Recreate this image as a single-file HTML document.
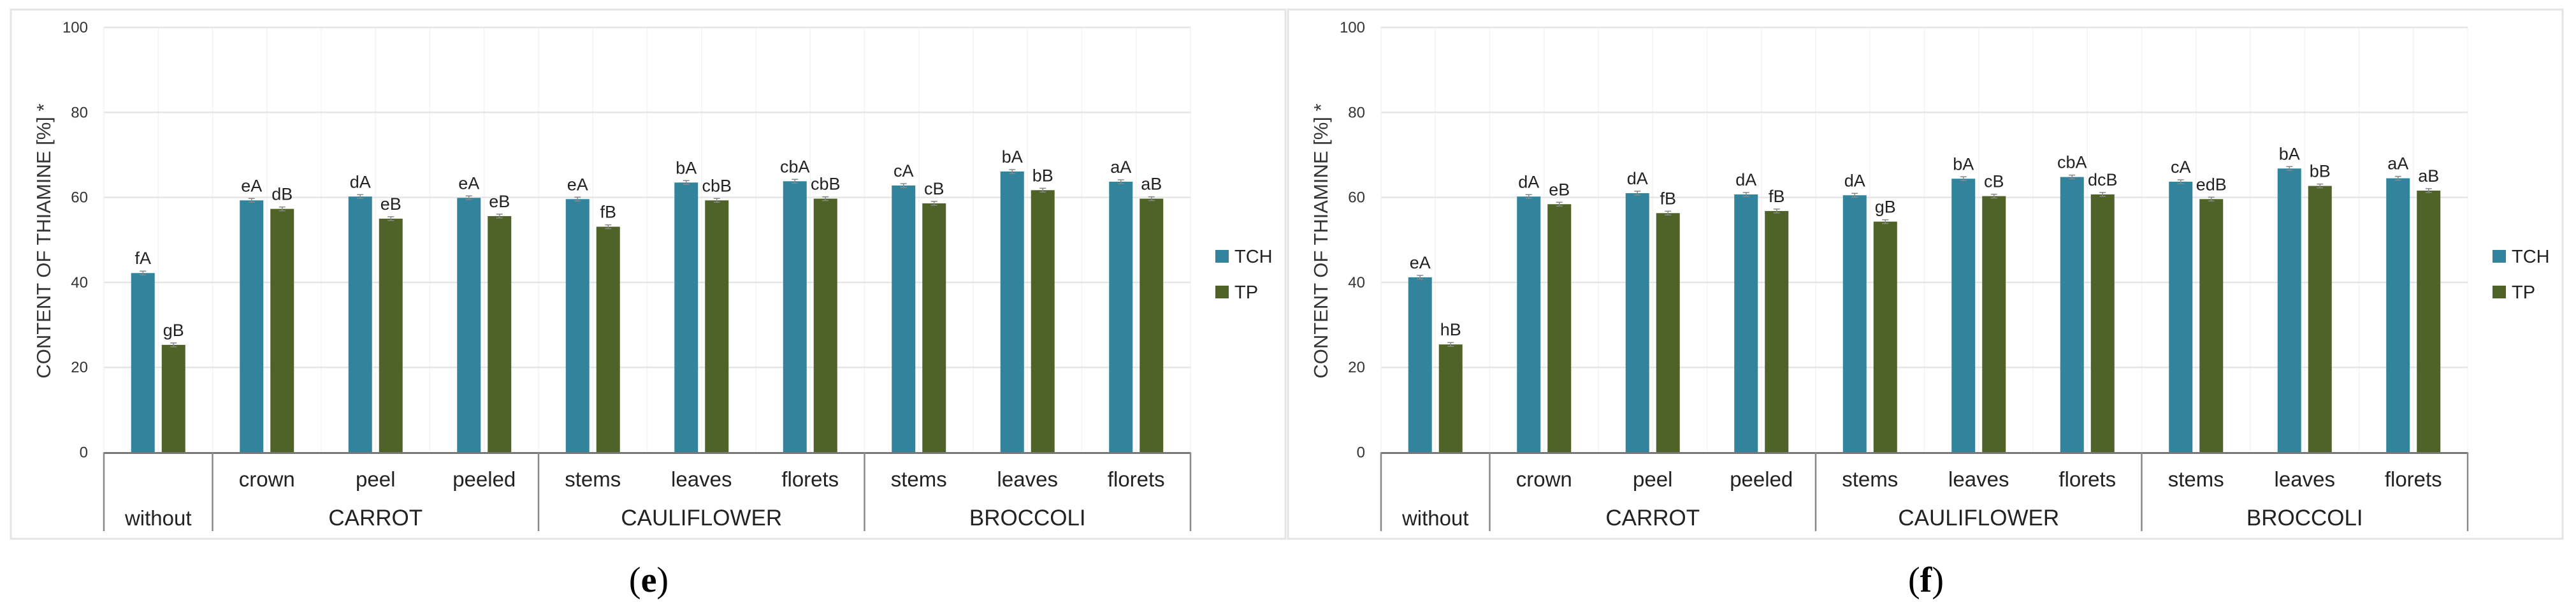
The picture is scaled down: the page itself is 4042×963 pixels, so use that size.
<!DOCTYPE html>
<html><head><meta charset="utf-8">
<style>
html,body{margin:0;padding:0;background:#fff;}
svg{display:block;font-family:"Liberation Sans",Arial,sans-serif;}
</style></head>
<body>
<svg id="chart" width="4042" height="963" viewBox="0 0 4042 963" xmlns="http://www.w3.org/2000/svg"></svg>
<script>
const categories = ["without","crown","peel","peeled","stems","leaves","florets","stems","leaves","florets"];
const groups = ["", "CARROT", "CAULIFLOWER", "BROCCOLI"];
const groupSpans = [1, 3, 3, 3];
const yTicks = [0, 20, 40, 60, 80, 100];
const seriesNames = ["TCH", "TP"];
const tchE = [42.2, 59.3, 60.2, 59.9, 59.6, 63.5, 63.8, 62.8, 66.1, 63.7];
const tpE  = [25.3, 57.3, 55.0, 55.6, 53.1, 59.3, 59.7, 58.6, 61.7, 59.7];
const tchELabels = ["fA","eA","dA","eA","eA","bA","cbA","cA","bA","aA"];
const tpELabels  = ["gB","dB","eB","eB","fB","cbB","cbB","cB","bB","aB"];
const tchF = [41.2, 60.2, 61.0, 60.7, 60.5, 64.4, 64.8, 63.7, 66.8, 64.5];
const tpF  = [25.4, 58.4, 56.3, 56.8, 54.3, 60.3, 60.7, 59.6, 62.7, 61.6];
const tchFLabels = ["eA","dA","dA","dA","dA","bA","cbA","cA","bA","aA"];
const tpFLabels  = ["hB","eB","fB","fB","gB","cB","dcB","edB","bB","aB"];

const NS = "http://www.w3.org/2000/svg";
const svg = document.getElementById("chart");
const COL = ["#31849b", "#4f6228"];
function mk(tag, attrs, parent, text){
  const e = document.createElementNS(NS, tag);
  for (const k in attrs) e.setAttribute(k, attrs[k]);
  if (text !== undefined) e.textContent = text;
  parent.appendChild(e);
  return e;
}
function panel(ox, tch, tp, tchL, tpL, caption, pname){
  const g = mk("g", {}, svg);
  
  
  const L = 163 + ox, R = 1868 + ox, Y0 = 709.5, Y100 = 43;
  const y = v => Y0 - (v / 100) * (Y0 - Y100);
  const cw = (R - L) / categories.length;
  const x = i => L + cw * (i + 0.5);
  const border = mk("rect", {x: 17 + ox, y: 15, width: 2000, height: 830, fill: "none", stroke: "#e4e4e4", "stroke-width": 3}, g);
  
  
  // vertical faint grid
  for (let i = 0; i <= categories.length * 2; i++) {
    const gx = L + cw * i / 2;
    const vl = mk("line", {x1: gx, x2: gx, y1: Y100, y2: Y0, stroke: "#f3f3f3", "stroke-width": 1.5}, g);
    
    
  }
  yTicks.forEach(t => {
    if (t > 0) {
      const gl = mk("line", {x1: L, x2: R, y1: y(t), y2: y(t), stroke: "#e6e6e6", "stroke-width": 2.5}, g);
      
      
    }
    const tl = mk("text", {x: 138 + ox, y: y(t) + 8, "text-anchor": "end", "font-size": 24, fill: "#333"}, g, String(t));
    
    
  });
  const yt = mk("text", {x: 0, y: 0, "text-anchor": "middle", "font-size": 31, fill: "#333", transform: `translate(${79 + ox},${378}) rotate(-90)`}, g, "CONTENT OF  THIAMINE [%] *");
  
  
  const bw = 37, off = 24;
  [tch, tp].forEach((ser, s) => {
    const labs = s === 0 ? tchL : tpL;
    ser.forEach((v, i) => {
      const cx = x(i) + (s === 0 ? -off : off);
      const b = mk("rect", {x: cx - bw / 2, y: y(v), width: bw, height: Y0 - y(v), fill: COL[s]}, g);
      
      
      const eb = mk("path", {d: `M${cx - 5},${y(v) - 3}H${cx + 5}M${cx},${y(v) - 3}V${y(v) + 3}M${cx - 5},${y(v) + 3}H${cx + 5}`, stroke: "#888", "stroke-width": 1.5, fill: "none"}, g);
      
      
      const bl = mk("text", {x: cx, y: y(v) - 14, "text-anchor": "middle", "font-size": 27, fill: "#222"}, g, labs[i]);
      
      
    });
  });
  const ax = mk("line", {x1: L, x2: R, y1: Y0 + 1, y2: Y0 + 1, stroke: "#777", "stroke-width": 3}, g);
  
  
  categories.forEach((c, i) => {
    if (i === 0) return;
    const ct = mk("text", {x: x(i), y: 763, "text-anchor": "middle", "font-size": 33, fill: "#222"}, g, c);
    
    
  });
  let start = 0;
  groupSpans.forEach((span, k) => {
    const gx0 = L + cw * start;
    const dv = mk("line", {x1: gx0, x2: gx0, y1: Y0, y2: 833, stroke: "#888", "stroke-width": 2.5}, g);
    
    
    const label = k === 0 ? categories[0] : groups[k];
    const gt = mk("text", {x: gx0 + cw * span / 2, y: 824, "text-anchor": "middle", "font-size": k === 0 ? 33 : 35, fill: "#222"}, g, label);
    
    
    start += span;
  });
  const dr = mk("line", {x1: R, x2: R, y1: Y0, y2: 833, stroke: "#888", "stroke-width": 2.5}, g);
  
  
  seriesNames.forEach((n, s) => {
    const ly = 392 + s * 56;
    const sw = mk("rect", {x: 1907 + ox, y: ly, width: 21, height: 20, fill: COL[s]}, g);
    
    
    const lt = mk("text", {x: 1937 + ox, y: ly + 20, "font-size": 29, fill: "#222"}, g, n);
    
    
  });
  const cap = mk("text", {x: 1018 + ox, y: 928, "text-anchor": "middle", "font-size": 56, fill: "#000", "font-family": "Liberation Serif, serif"}, g);
  
  
  mk("tspan", {}, cap, "(");
  mk("tspan", {"font-weight": "bold"}, cap, caption);
  mk("tspan", {}, cap, ")");
}
panel(0, tchE, tpE, tchELabels, tpELabels, "e", "panel-e");
panel(2004, tchF, tpF, tchFLabels, tpFLabels, "f", "panel-f");
</script>
</body></html>
